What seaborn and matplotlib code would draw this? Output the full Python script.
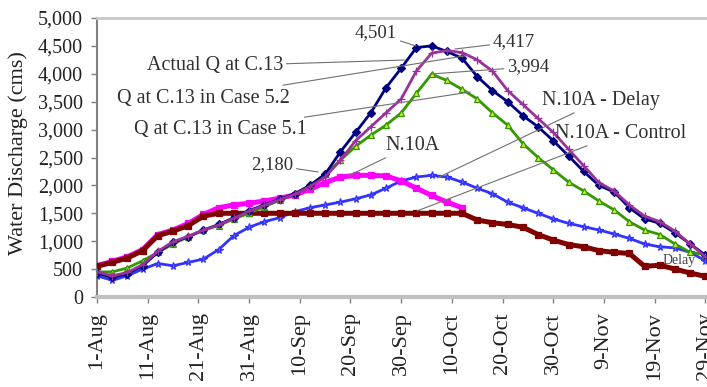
import numpy as np
import pandas as pd
import matplotlib
matplotlib.use("Agg")
import matplotlib.pyplot as plt
import seaborn as sns

# Daily-sampled discharge (cms), read every 3 days from 1-Aug to 29-Nov
days = list(range(0, 121, 3))
actual_c13 = [430, 350, 420, 560, 800, 980, 1080, 1200, 1300, 1420, 1550, 1650, 1750, 1850,
              2000, 2200, 2600, 2950, 3300, 3750, 4100, 4470, 4501, 4400, 4280, 3950, 3700,
              3500, 3250, 3050, 2800, 2530, 2250, 2000, 1880, 1600, 1400, 1320, 1150, 950, 750]
case_52 = [450, 380, 440, 580, 820, 990, 1090, 1200, 1290, 1410, 1540, 1640, 1740, 1840,
           1980, 2150, 2450, 2800, 3050, 3300, 3550, 4050, 4370, 4417, 4380, 4250, 4050,
           3700, 3450, 3200, 2950, 2650, 2350, 2050, 1900, 1650, 1450, 1350, 1180, 950, 720]
case_51 = [450, 450, 520, 650, 800, 950, 1080, 1200, 1280, 1400, 1500, 1620, 1730, 1850,
           2000, 2200, 2450, 2700, 2900, 3080, 3300, 3650, 3994, 3880, 3720, 3550, 3300,
           3080, 2750, 2500, 2280, 2060, 1900, 1720, 1560, 1350, 1200, 1120, 950, 800, 760]
n10a_delay = [380, 300, 380, 500, 600, 560, 620, 680, 850, 1100, 1250, 1350, 1420, 1530,
              1600, 1650, 1700, 1760, 1830, 1950, 2080, 2150, 2180, 2150, 2060, 1950, 1850,
              1700, 1600, 1500, 1400, 1320, 1260, 1200, 1130, 1050, 950, 900, 880, 800, 650]
n10a_control = [550, 620, 700, 830, 1100, 1180, 1280, 1450, 1500, 1500, 1500, 1500, 1500, 1500,
                1500, 1500, 1500, 1500, 1500, 1500, 1500, 1500, 1500, 1500, 1500, 1380, 1330,
                1300, 1250, 1120, 1020, 940, 900, 830, 800, 780, 550, 570, 500, 430, 370]
days_n10a = list(range(0, 73, 3))
n10a = [560, 640, 720, 850, 1120, 1200, 1320, 1480, 1600, 1650, 1680, 1720, 1770, 1830,
        1930, 2050, 2150, 2180, 2180, 2170, 2080, 1950, 1820, 1700, 1600]

tick_days = list(range(0, 121, 10))
tick_labels = ["1-Aug", "11-Aug", "21-Aug", "31-Aug", "10-Sep", "20-Sep", "30-Sep",
               "10-Oct", "20-Oct", "30-Oct", "9-Nov", "19-Nov", "29-Nov"]
y_ticks = list(range(0, 5001, 500))

sns.set_theme(style="white")
plt.rcParams["font.family"] = ["Liberation Serif", "DejaVu Serif"]

fig = plt.figure(figsize=(7.07, 3.87), dpi=100)
ax = fig.add_axes([97 / 707, 90 / 387, (713 - 97) / 707, 279 / 387])

frames = []
for name, vals in [("Actual", actual_c13), ("Case 5.2", case_52), ("Case 5.1", case_51),
                   ("Delay", n10a_delay), ("Control", n10a_control)]:
    frames.append(pd.DataFrame({"day": days, "flow": vals, "series": name}))
frames.append(pd.DataFrame({"day": days_n10a, "flow": n10a, "series": "N.10A"}))
df = pd.concat(frames, ignore_index=True)

styles = {
    "Delay":    dict(color="#3333FF", marker="*", markersize=5.5, lw=2.0, mfc="#7777FF", mec="#3333FF"),
    "N.10A":    dict(color="#FF00FF", marker="s", markersize=4, lw=3.6, mfc="#FF00FF", mec="#FF00FF"),
    "Control":  dict(color="#800000", marker="s", markersize=4, lw=3.6, mfc="#800000", mec="#800000"),
    "Case 5.1": dict(color="#339900", marker="^", markersize=5, lw=2.0, mfc="#CCEE33", mec="#339900"),
    "Actual":   dict(color="#000080", marker="D", markersize=4, lw=2.0, mfc="#000080", mec="#000080"),
    "Case 5.2": dict(color="#993399", marker="+", markersize=5.5, lw=2.0, mfc="#993399", mec="#993399"),
}
for z, name in enumerate(["Delay", "N.10A", "Control", "Case 5.1", "Actual", "Case 5.2"]):
    st = styles[name]
    sns.lineplot(data=df[df["series"] == name], x="day", y="flow", ax=ax,
                 color=st["color"], marker=st["marker"], markersize=st["markersize"],
                 linewidth=st["lw"], markerfacecolor=st["mfc"], markeredgecolor=st["mec"],
                 markeredgewidth=0.9, zorder=3 + z, legend=False)

ax.set_xlim(0, 121.5)
ax.set_ylim(0, 5000)
ax.set_xticks(tick_days)
ax.set_xticklabels(tick_labels, rotation=90, fontsize=16, color="#222222")
ax.set_yticks(y_ticks)
ax.set_yticklabels([f"{v:,}" for v in y_ticks], fontsize=14.5, color="#222222")
ax.set_xlabel("")
ax.set_ylabel("")
ax.tick_params(axis="both", which="major", direction="out", length=4, width=1,
               color="#808080", bottom=True, left=True)
ax.tick_params(axis="x", pad=7)
ax.tick_params(axis="y", pad=6)

ax.spines["left"].set_color("#808080")
ax.spines["left"].set_linewidth(1.5)
ax.spines["bottom"].set_color("#C0C0C0")
ax.spines["bottom"].set_linewidth(3)
ax.spines["top"].set_color("#C8C8C8")
ax.spines["top"].set_linewidth(2)
ax.spines["right"].set_visible(False)

fig.text(18 / 707, (387 - 153) / 387, "Water Discharge (cms)", rotation=90,
         ha="center", va="center", fontsize=16, color="#222222")

line_kw = dict(arrowstyle="-", color="#707070", lw=0.8, shrinkA=0, shrinkB=0)
txt_color = "#303030"


def note(text, xytext, xy, ha, size=14.5):
    ax.annotate(text, xy=xy, xytext=xytext, ha=ha, va="center", fontsize=size,
                color=txt_color, arrowprops=line_kw, zorder=20)


note("Actual Q at C.13", (36.7, 4140), (60.7, 4247), "right")
note("Q at C.13 in Case 5.2", (38.1, 3566), (73.6, 4337), "right")
note("Q at C.13 in Case 5.1", (41.4, 2993), (73.6, 3674), "right")
note(f"{max(actual_c13):,}", (59.2, 4731), (62.9, 4498), "right", 13.5)
note(f"{max(case_52):,}", (78.1, 4570), (70.6, 4444), "left", 13.5)
note(f"{max(case_51):,}", (80.9, 4122), (65.7, 3996), "left", 13.5)
note(f"{max(n10a):,}", (38.7, 2366), (43.6, 2240), "right", 13.5)
note("N.10A", (56.8, 2724), (49.9, 2186), "left")
note("N.10A - Delay", (87.8, 3530), (67.1, 2133), "left")
note("N.10A - Control", (90.3, 2939), (63.1, 1541), "left")
ax.text(114.8, 663, "Delay", ha="center", va="center", fontsize=10,
        color="#404040", zorder=2)

fig.savefig("out.png", dpi=100)
